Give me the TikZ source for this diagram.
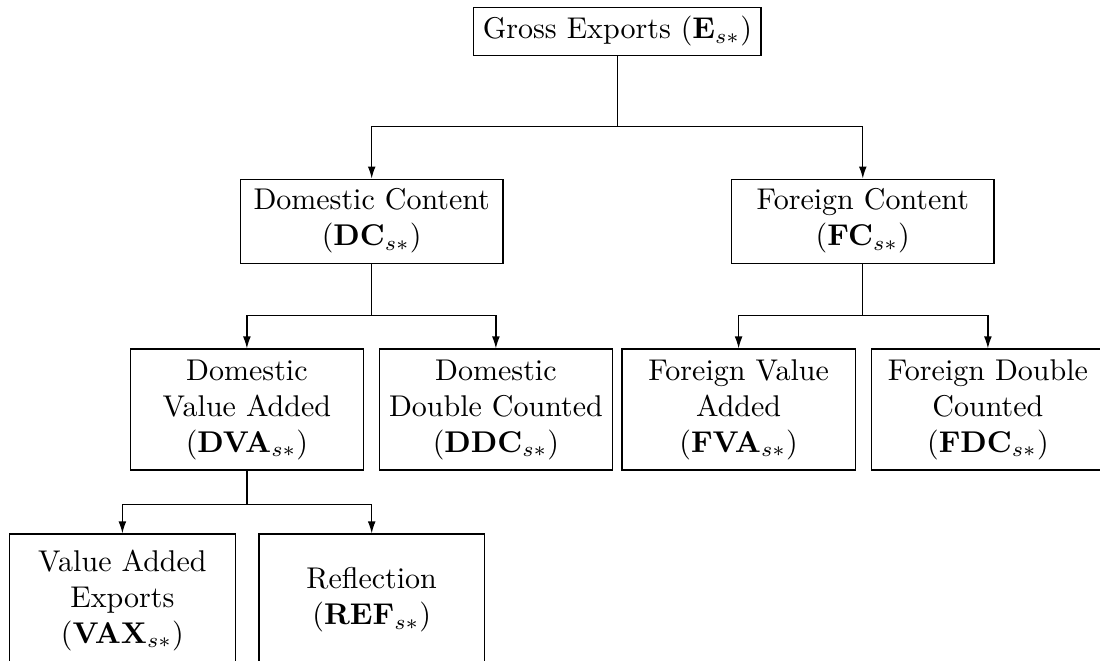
\documentclass[tikz,border=0pt]{standalone}
\usetikzlibrary{arrows.meta}

\begin{document}
\begin{tikzpicture}[>={Latex[length=4pt,width=2.6pt]},x=1pt,y=1pt,
    part/.style={draw,align=center,inner sep=3pt}]
  \useasboundingbox (0,0) rectangle (366.67,-220.33);
  \clip (0,0) rectangle (366.67,-220.33);
  % top
  \node[part,minimum width=93.3,minimum height=16] (gross) at (205.8,-10.4)
    {Gross Exports ($\mathbf{E}_{s*}$)};
  % domestic / foreign content
  \node[part,minimum width=87.5,minimum height=28] (dom) at (123.9,-73.7)
    {Domestic Content\\($\mathbf{DC}_{s*}$)};
  \node[part,minimum width=87.5,minimum height=28] (for) at (287.6,-73.7)
    {Foreign Content\\($\mathbf{FC}_{s*}$)};
  % third row
  \node[part,minimum width=77.7,minimum height=40.3] (dva) at (82.3,-136.5)
    {Domestic\\Value Added\\($\mathbf{DVA}_{s*}$)};
  \node[part,minimum width=77.7,minimum height=40.3] (ddc) at (165.3,-136.5)
    {Domestic\\Double Counted\\($\mathbf{DDC}_{s*}$)};
  \node[part,minimum width=77.7,minimum height=40.3] (fva) at (246.2,-136.5)
    {Foreign Value\\Added\\($\mathbf{FVA}_{s*}$)};
  \node[part,minimum width=77.7,minimum height=40.3] (fdc) at (329.3,-136.5)
    {Foreign Double\\Counted\\($\mathbf{FDC}_{s*}$)};
  % bottom row
  \node[part,minimum width=75.2,minimum height=44] (vax) at (40.8,-200)
    {Value Added\\Exports\\($\mathbf{VAX}_{s*}$)};
  \node[part,minimum width=75.2,minimum height=44] (ref) at (123.9,-200)
    {Reflection\\($\mathbf{REF}_{s*}$)};
  % connectors
  \coordinate (busA) at (0,-42.1);
  \coordinate (busB) at (0,-105.2);
  \coordinate (busC) at (0,-168.1);
  \draw[->] (gross.south) -- (gross.south |- busA) -| (dom.north);
  \draw[->] (gross.south) -- (gross.south |- busA) -| (for.north);
  \draw[->] (dom.south) -- (dom.south |- busB) -| (dva.north);
  \draw[->] (dom.south) -- (dom.south |- busB) -| (ddc.north);
  \draw[->] (for.south) -- (for.south |- busB) -| (fva.north);
  \draw[->] (for.south) -- (for.south |- busB) -| (fdc.north);
  \draw[->] (dva.south) -- (dva.south |- busC) -| (vax.north);
  \draw[->] (dva.south) -- (dva.south |- busC) -| (ref.north);
\end{tikzpicture}
\end{document}
